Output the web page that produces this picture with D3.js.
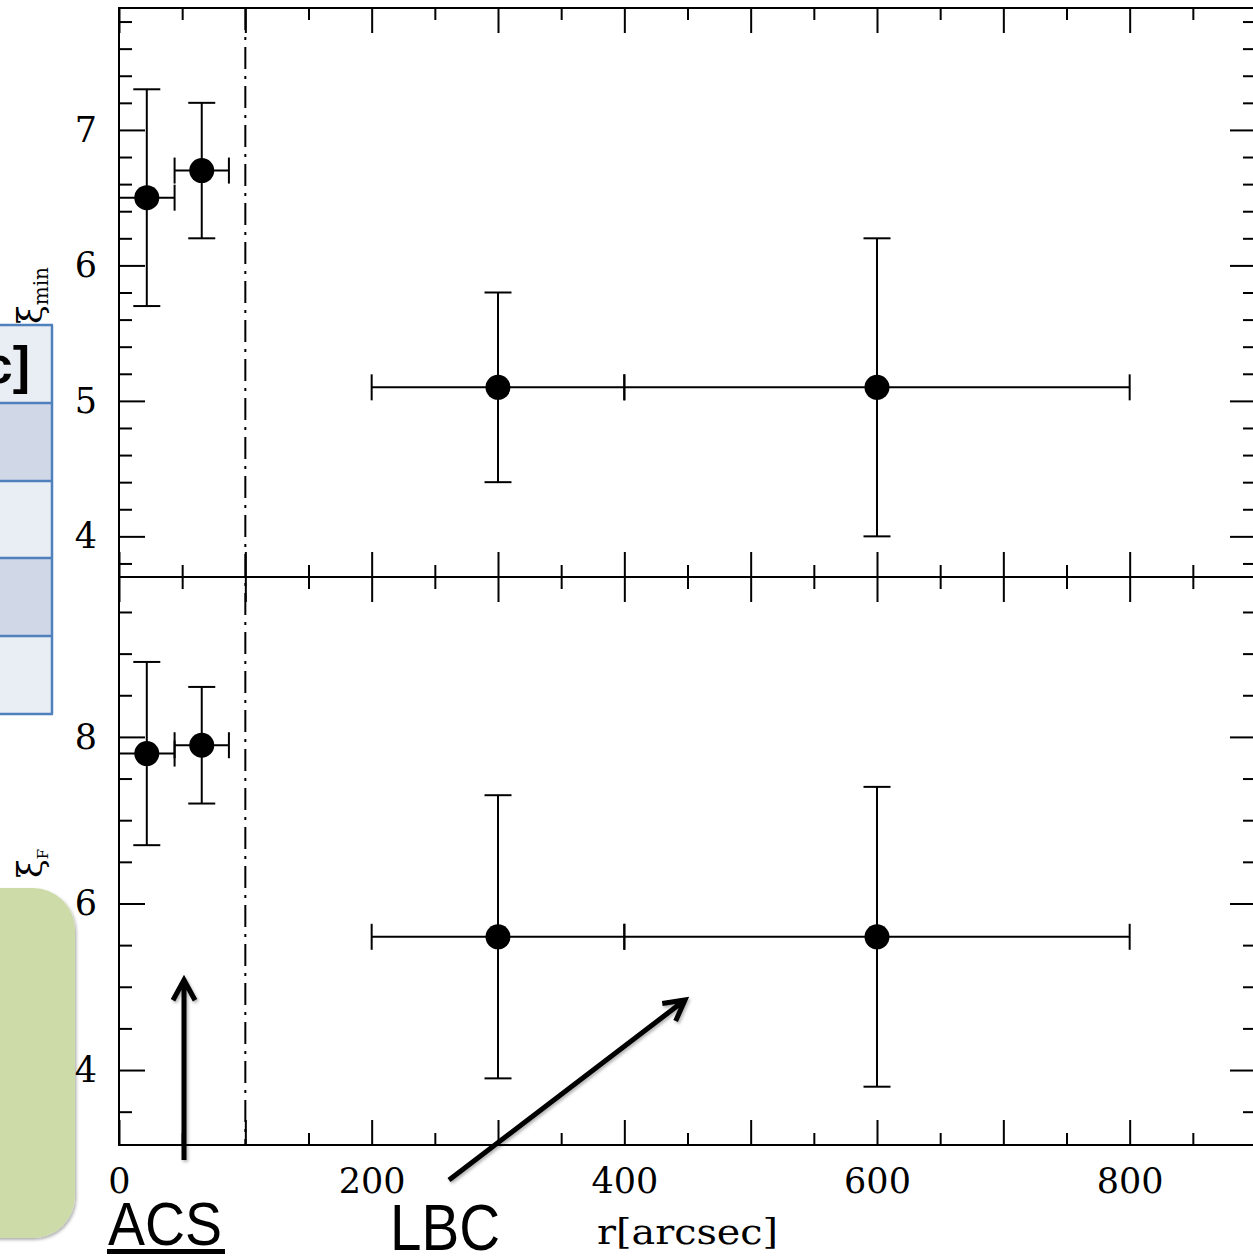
<!DOCTYPE html>
<html><head><meta charset="utf-8">
<script src="https://cdn.jsdelivr.net/npm/d3@7"></script>
<style>body{margin:0;background:#fff}svg{display:block}</style>
</head><body>
<svg id="c" width="1253" height="1258"></svg>
<script>
// ---- data ----
const rCenter   = [22, 65.5, 300, 600];
const rLow      = [0, 44, 200, 400];
const rHigh     = [44, 87, 400, 800];
const xiMin     = [6.5, 6.7, 5.1, 5.1];
const xiMinLow  = [5.7, 6.2, 4.4, 4.0];
const xiMinHigh = [7.3, 7.2, 5.8, 6.2];
const xiF       = [7.8, 7.9, 5.6, 5.6];
const xiFLow    = [6.7, 7.2, 3.9, 3.8];
const xiFHigh   = [8.9, 8.6, 7.3, 7.4];
const acsLimit  = 100;
const xTickLabels = [0, 200, 400, 600, 800];
const xMajor = [0, 100, 200, 300, 400, 500, 600, 700, 800, 900];
const xMinor = [50, 150, 250, 350, 450, 550, 650, 750, 850];
const topMajor = [4, 5, 6, 7];
const topMinor = [3.8, 4.2, 4.4, 4.6, 4.8, 5.2, 5.4, 5.6, 5.8, 6.2, 6.4, 6.6, 6.8, 7.2, 7.4, 7.6, 7.8];
const botMajor = [4, 6, 8];
const botMinor = [3.5, 4.5, 5, 5.5, 6.5, 7, 7.5, 8.5, 9, 9.5];

const svg = d3.select("#c");
const defs = svg.append("defs");
const f = defs.append("filter").attr("id","sh").attr("x","-20%").attr("y","-20%").attr("width","140%").attr("height","140%");
f.append("feDropShadow").attr("dx",1.5).attr("dy",2).attr("stdDeviation",1.5).attr("flood-color","#000").attr("flood-opacity",0.3);

const L = 119, R = 1256, T = 8, M = 577, B = 1145;
const x = d3.scaleLinear().domain([0, 900]).range([L, R]);
const yTop = d3.scaleLinear().domain([3.7, 7.9]).range([M, T]);
const yBot = d3.scaleLinear().domain([3.1, 9.92]).range([B, M]);

const serif = "'DejaVu Serif', 'Liberation Serif', serif";
const sans = "'Liberation Sans', Arial, sans-serif";

// ---- slide overlays: table fragment ----
const rowsY = [325, 403, 481, 558, 636, 714];
const rowFill = ["#e9edf4", "#d0d8e8", "#e9edf4", "#d0d8e8", "#e9edf4"];
const tbl = svg.append("g");
rowFill.forEach((c,i)=>{
  tbl.append("rect").attr("x",-10).attr("y",rowsY[i]).attr("width",62).attr("height",rowsY[i+1]-rowsY[i]).attr("fill",c);
});
rowsY.forEach(yv=>tbl.append("line").attr("x1",-10).attr("x2",53).attr("y1",yv).attr("y2",yv).attr("stroke","#4f81bd").attr("stroke-width",2.5));
tbl.append("line").attr("x1",52).attr("x2",52).attr("y1",325).attr("y2",714).attr("stroke","#4f81bd").attr("stroke-width",2.5);
tbl.append("text").attr("x",30).attr("y",383).attr("text-anchor","end").attr("font-family",sans).attr("font-weight","bold").attr("font-size",52).text("c]");

// green rounded box
svg.append("rect").attr("x",-60).attr("y",888).attr("width",135).attr("height",350).attr("rx",42).attr("fill","#cddba9").attr("filter","url(#sh)");

// ---- frames ----
const ax = svg.append("g").attr("stroke","#000").attr("stroke-width",2).attr("fill","none");
ax.append("rect").attr("x",L).attr("y",T).attr("width",R-L).attr("height",B-T);
ax.append("line").attr("x1",L).attr("x2",R).attr("y1",M).attr("y2",M);

function styleAxis(g){
  g.select(".domain").remove();
  g.selectAll(".tick line").attr("stroke","#000").attr("stroke-width",2);
  g.selectAll("text").attr("font-family",serif).attr("font-size",35).attr("fill","#000");
}
function ticksX(yPos, ctor, vals, size, labels){
  const a = ctor(x).tickValues(vals).tickSizeInner(size).tickSizeOuter(0).tickPadding(23)
    .tickFormat(labels ? (d=>labels.includes(d)? d3.format("d")(d) : "") : ()=>"");
  svg.append("g").attr("transform",`translate(0,${yPos})`).call(a).call(styleAxis);
}
// top axis
ticksX(T, d3.axisTop, xMajor, -25); ticksX(T, d3.axisTop, xMinor, -12);
// middle (both directions)
ticksX(M, d3.axisBottom, xMajor, -25); ticksX(M, d3.axisBottom, xMinor, -12);
ticksX(M, d3.axisTop, xMajor, -25); ticksX(M, d3.axisTop, xMinor, -12);
// bottom with labels
ticksX(B, d3.axisBottom, xMajor, -25, xTickLabels); ticksX(B, d3.axisBottom, xMinor, -12);

function ticksY(scale, xPos, ctor, vals, size, label){
  const a = ctor(scale).tickValues(vals).tickSizeInner(size).tickSizeOuter(0).tickPadding(22)
    .tickFormat(label ? d3.format("d") : ()=>"");
  svg.append("g").attr("transform",`translate(${xPos},0)`).call(a).call(styleAxis);
}
ticksY(yTop, L, d3.axisLeft, topMajor, -26, true); ticksY(yTop, L, d3.axisLeft, topMinor, -13);
ticksY(yTop, R, d3.axisRight, topMajor, -26); ticksY(yTop, R, d3.axisRight, topMinor, -13);
ticksY(yBot, L, d3.axisLeft, botMajor, -26, true); ticksY(yBot, L, d3.axisLeft, botMinor, -13);
ticksY(yBot, R, d3.axisRight, botMajor, -26); ticksY(yBot, R, d3.axisRight, botMinor, -13);

// dash-dot line at ACS limit
svg.append("line").attr("x1",x(acsLimit)).attr("x2",x(acsLimit)).attr("y1",T).attr("y2",B)
  .attr("stroke","#000").attr("stroke-width",2).attr("stroke-dasharray","22,7,3,7");

// ---- data marks ----
function panel(scale, vals, lo, hi){
  const g = svg.append("g").attr("stroke","#000").attr("stroke-width",2);
  rCenter.forEach((r,i)=>{
    const cx = x(r), cy = scale(vals[i]);
    g.append("line").attr("x1",cx).attr("x2",cx).attr("y1",scale(lo[i])).attr("y2",scale(hi[i]));
    [lo[i],hi[i]].forEach(v=>g.append("line").attr("x1",cx-13.5).attr("x2",cx+13.5).attr("y1",scale(v)).attr("y2",scale(v)));
    g.append("line").attr("x1",x(rLow[i])).attr("x2",x(rHigh[i])).attr("y1",cy).attr("y2",cy);
    [rLow[i],rHigh[i]].forEach(v=>g.append("line").attr("x1",x(v)).attr("x2",x(v)).attr("y1",cy-13).attr("y2",cy+13));
  });
  svg.append("g").selectAll("circle").data(rCenter).join("circle")
    .attr("cx",d=>x(d)).attr("cy",(d,i)=>scale(vals[i])).attr("r",12.5).attr("fill","#000");
}
panel(yTop, xiMin, xiMinLow, xiMinHigh);
panel(yBot, xiF, xiFLow, xiFHigh);

// ---- axis titles ----
const t1 = svg.append("text").attr("transform","translate(42,324) rotate(-90)").attr("font-family",serif).attr("fill","#000");
t1.append("tspan").attr("font-size",34).text("ξ");
t1.append("tspan").attr("font-size",20).attr("dy",6).text("min");
const t2 = svg.append("text").attr("transform","translate(42,878) rotate(-90)").attr("font-family",serif).attr("fill","#000");
t2.append("tspan").attr("font-size",34).text("ξ");
t2.append("tspan").attr("font-size",15).attr("dy",6).text("F");

svg.append("text").attr("x",597).attr("y",1244).attr("font-family",serif).attr("font-size",36)
  .attr("textLength",181).attr("lengthAdjust","spacingAndGlyphs").text("r[arcsec]");

// ---- annotations ----
svg.append("text").attr("x",108).attr("y",1245).attr("font-family",sans).attr("font-size",62)
  .attr("textLength",114).attr("lengthAdjust","spacingAndGlyphs").text("ACS");
svg.append("rect").attr("x",107).attr("y",1249).attr("width",118).attr("height",5).attr("fill","#000");
svg.append("text").attr("x",390).attr("y",1250).attr("font-family",sans).attr("font-size",64)
  .attr("textLength",110).attr("lengthAdjust","spacingAndGlyphs").text("LBC");

function arrow(x1,y1,x2,y2){
  const ang = Math.atan2(y2-y1,x2-x1), w = 23, a = 0.5;
  const p = `M${x1},${y1}L${x2},${y2}M${x2-w*Math.cos(ang-a)},${y2-w*Math.sin(ang-a)}L${x2},${y2}L${x2-w*Math.cos(ang+a)},${y2-w*Math.sin(ang+a)}`;
  svg.append("path").attr("d",p).attr("fill","none").attr("stroke","#000").attr("stroke-width",5)
    .attr("stroke-linecap","butt").attr("stroke-linejoin","miter").attr("filter","url(#sh)");
}
arrow(184,1160,184,980);
arrow(449,1180,685,1000);
</script>
</body></html>
